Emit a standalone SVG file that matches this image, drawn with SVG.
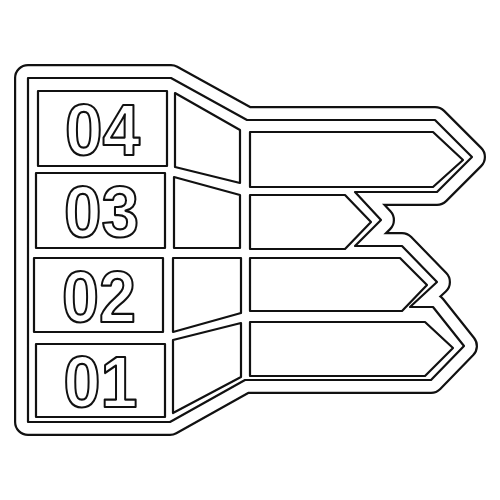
<svg xmlns="http://www.w3.org/2000/svg" xmlns:xlink="http://www.w3.org/1999/xlink" width="500" height="500" viewBox="0 0 500 500">
<defs>
<style>
.ln{fill:#fff;stroke:#111;stroke-width:2.2;stroke-linejoin:round}
.num{font-family:"Liberation Sans",Arial,sans-serif;font-weight:bold;font-size:73px;fill:#fff;stroke:#111;stroke-width:2.2;stroke-linejoin:round;text-anchor:middle}
</style>
<path id="sil" d="M28,78 L171,78 L247,120 L435,120 L472,157 L437,192 L355,192 L381,220 L355,246 L402,246 L437,282 L410,307 L433,307 L464,346 L431,380 L245,380 L170,422 L28,422 Z"/>
</defs>
<rect width="500" height="500" fill="#fff"/>
<g id="outline">
<use href="#sil" xlink:href="#sil" fill="none" stroke="#111" stroke-width="28" stroke-linejoin="round"/>
<use href="#sil" xlink:href="#sil" fill="none" stroke="#fff" stroke-width="23.6" stroke-linejoin="round"/>
<use href="#sil" xlink:href="#sil" class="ln"/>
</g>
<g id="step04">
<rect class="ln" x="38" y="91" width="129" height="75"/>
<text class="num" x="102.5" y="155" textLength="75" lengthAdjust="spacingAndGlyphs">04</text>
</g>
<g id="step03">
<rect class="ln" x="36" y="173" width="129" height="75"/>
<text class="num" x="101.5" y="237" textLength="75" lengthAdjust="spacingAndGlyphs">03</text>
</g>
<g id="step02">
<rect class="ln" x="34" y="258" width="129" height="74"/>
<text class="num" x="99" y="322" textLength="74" lengthAdjust="spacingAndGlyphs">02</text>
</g>
<g id="step01">
<rect class="ln" x="36" y="344" width="129" height="73"/>
<text class="num" x="100.5" y="407" textLength="74" lengthAdjust="spacingAndGlyphs">01</text>
</g>
<g id="panel4"><path class="ln" d="M175,93 L240,130 L240,183 L175,167 Z"/></g>
<g id="panel3"><path class="ln" d="M174,177 L240,195 L240,248 L174,248 Z"/></g>
<g id="panel2"><path class="ln" d="M173,258 L241,258 L241,313 L173,332 Z"/></g>
<g id="panel1"><path class="ln" d="M173,340 L241,323 L241,377 L173,413 Z"/></g>
<g id="arrow4"><path class="ln" d="M250,132 L433,132 L463,160 L433,187 L250,187 Z"/></g>
<g id="arrow3"><path class="ln" d="M250,195 L345,195 L371,222 L345,249 L250,249 Z"/></g>
<g id="arrow2"><path class="ln" d="M250,258 L400,258 L427,285 L402,311 L250,311 Z"/></g>
<g id="arrow1"><path class="ln" d="M250,322 L425,322 L453,348 L425,376 L250,376 Z"/></g>
<g id="connectors"/>
</svg>
